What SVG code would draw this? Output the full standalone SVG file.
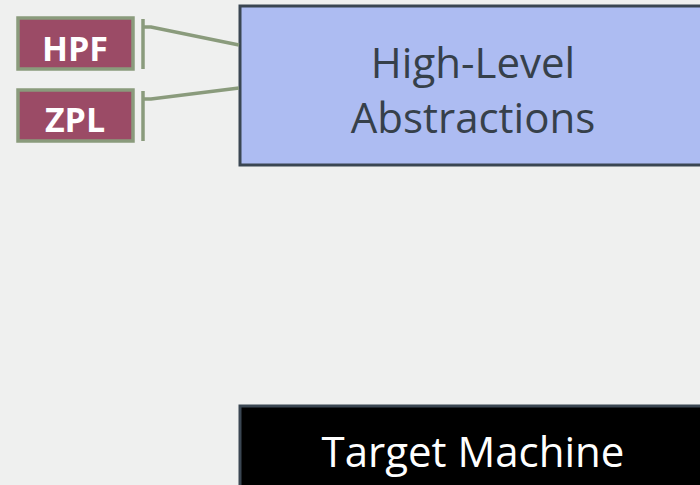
<svg xmlns="http://www.w3.org/2000/svg" width="700" height="485" viewBox="0 0 700 485">
  <style>
    .lang rect { fill: #9b4b66; stroke: #8a9b7c; stroke-width: 3.5; }
    .lang text { font-family: "Open Sans", "Liberation Sans", sans-serif; font-weight: bold; font-size: 34px; fill: #ffffff; text-anchor: middle; }
    .layer text { font-family: "Open Sans", "Liberation Sans", sans-serif; font-size: 42px; text-anchor: middle; }
    .links line, .links path { stroke: #8a9b7c; stroke-width: 3.5; fill: none; }
  </style>
  <rect width="700" height="485" fill="#eff0ef"/>

  <g id="high-level" class="layer">
    <rect x="240" y="6" width="480" height="159" fill="#adbcf2" stroke="#3a4652" stroke-width="3"/>
    <text x="473" y="78" fill="#36404a">High-Level</text>
    <text x="473" y="133" fill="#36404a">Abstractions</text>
  </g>

  <g id="target-machine" class="layer">
    <rect x="240" y="406" width="480" height="100" fill="#000000" stroke="#3a4652" stroke-width="3"/>
    <text x="473" y="467" fill="#ffffff">Target Machine</text>
  </g>

  <g id="hpf" class="lang">
    <rect x="18" y="18" width="115" height="51"/>
    <text x="75" y="61">HPF</text>
  </g>

  <g id="zpl" class="lang">
    <rect x="18" y="90" width="115" height="51"/>
    <text x="75" y="132">ZPL</text>
  </g>

  <g id="connectors" class="links">
    <line x1="143" y1="19" x2="143" y2="69"/>
    <path d="M143 27 L151 27 L239 45"/>
    <line x1="143" y1="91" x2="143" y2="141"/>
    <path d="M143 99 L151 99 L239 88"/>
  </g>
</svg>
